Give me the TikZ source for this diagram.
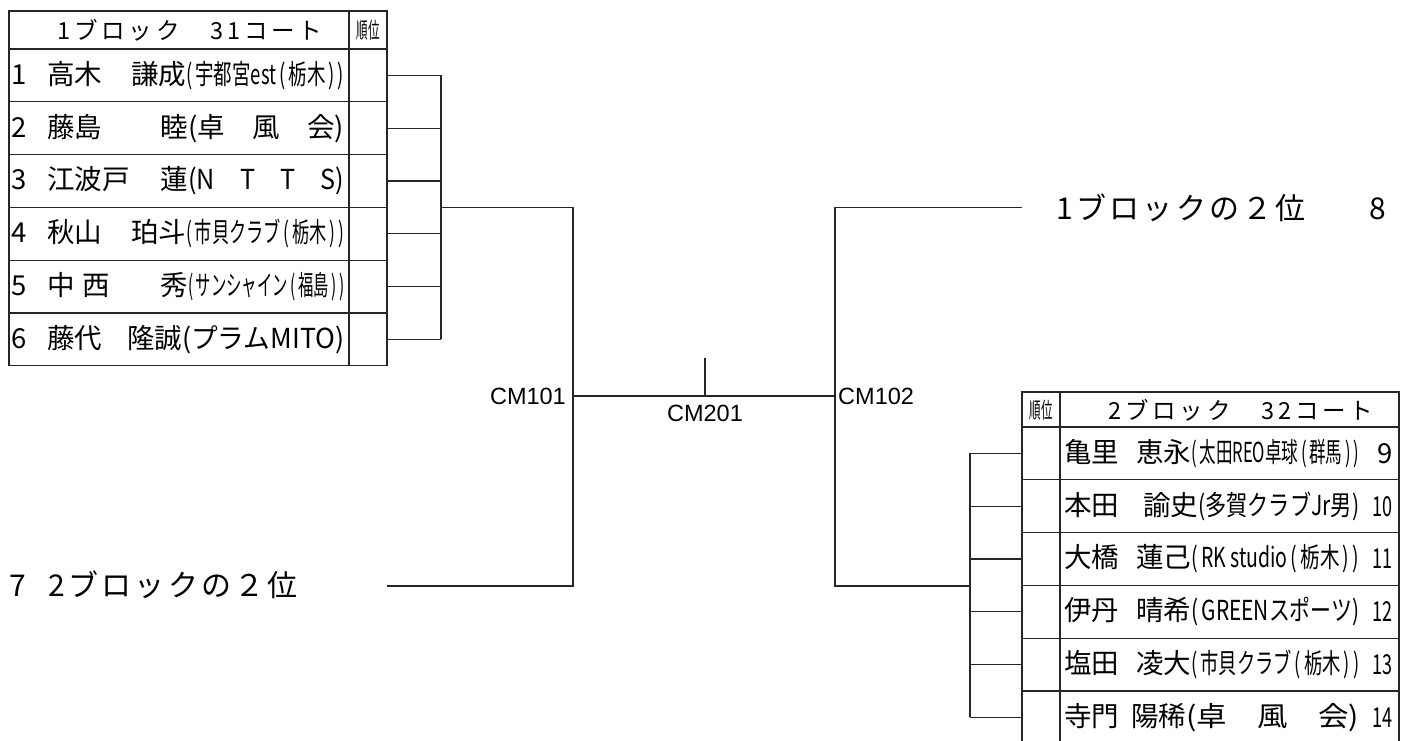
\documentclass[tikz,border=0pt]{standalone}
\usepackage{fontspec}
\usepackage{graphicx}
\setmainfont{Liberation Sans}
\newfontfamily\jp{Noto Sans CJK JP}
\newfontfamily\jpsp{Noto Sans CJK JP}[LetterSpace=16]
\newfontfamily\jpsec{Noto Sans CJK JP}[LetterSpace=11]
\usetikzlibrary{positioning}
\tikzstyle{Name} = [inner sep=0pt, anchor=west, font=\jp\fontsize{27.5}{27.5}\selectfont]
\tikzstyle{Head} = [inner sep=0pt, font=\jpsp\fontsize{23.5}{23.5}\selectfont]
\tikzstyle{Rank} = [inner sep=0pt, font=\jp\fontsize{22}{22}\selectfont]
\tikzstyle{Label} = [inner sep=0pt, font=\fontsize{23.5}{23.5}\selectfont]
\tikzstyle{Second} = [inner sep=0pt, anchor=west, font=\jpsec\fontsize{30}{30}\selectfont]
\tikzstyle{Grid} = [line width=1.3pt, black!85]
\tikzstyle{Wire} = [line width=1.3pt, black!85]
\newcommand{\seedno}[1]{\ifnum#1>9 \resizebox{20pt}{\height}{#1}\else#1\fi}

\begin{document}
\begin{tikzpicture}[x=1pt,y=-1pt]
  \useasboundingbox (0,0) rectangle (1401,740);
  % block 1
  \draw[Grid] (9,11) rectangle (387,365.8);
  \draw[Grid] (349,11) -- (349,365.8);
  \foreach \k in {0,...,5} \draw[Grid] (9,49+52.8*\k) -- (387,49+52.8*\k);
  \node[Head] (head1) at (190,30) {1ブロック　31コート};
  \node[Rank] (rank1) at (368,30) {\resizebox{23pt}{\height}{順位}};
  \foreach \i/\s/\g/\e/\c in {1/高木/謙成/186/{(\,宇都宮est\,(\,栃木\,)\,)},
      2/藤島/睦/188/{(卓　風　会)}, 3/江波戸/蓮/188/{(N　T　T　S)},
      4/秋山/珀斗/186/{(\,市貝クラブ\,(\,栃木\,)\,)}, 5/中\hspace{8pt}西/秀/188/{(\,サンシャイン\,(\,福島\,)\,)},
      6/藤代/隆誠/182/{(プラムMITO)}}{
    \pgfmathsetmacro\y{49+52.8*(\i-0.5)}
    \pgfmathsetmacro\nw{\e-47}
    \pgfmathsetmacro\cw{344-\e}
    \node[Name] (p\i) at (11,\y) {\makebox[36pt][l]{\i}\makebox[\nw pt][l]{\s\hfill\g}\resizebox{\cw pt}{\height}{\c}};
    \coordinate (pr\i) at (387,\y);
    \coordinate (pj\i) at (441,\y);
    \draw[Wire] (pr\i) -- (pj\i);
  }
  % block 2
  \draw[Grid] (1022,392) rectangle (1399,743.8);
  \draw[Grid] (1060,392) -- (1060,743.8);
  \foreach \k in {0,...,5} \draw[Grid] (1022,427+52.8*\k) -- (1399,427+52.8*\k);
  \node[Head] (head2) at (1241,410) {2ブロック　32コート};
  \node[Rank] (rank2) at (1041,410) {\resizebox{23pt}{\height}{順位}};
  \foreach \i/\s/\g/\e/\c/\n in {1/亀里/恵永/1191/{(\,太田REO卓球\,(\,群馬\,)\,)}/9,
      2/本田/諭史/1198/{(多賀クラブJr男)}/10, 3/大橋/蓮己/1191/{(\,RK studio\,(\,栃木\,)\,)}/11,
      4/伊丹/晴希/1191/{(\,GREENスポーツ)}/12, 5/塩田/凌大/1191/{(\,市貝クラブ\,(\,栃木\,)\,)}/13,
      6/寺門/陽稀/1186/{(卓　風　会)}/14}{
    \pgfmathsetmacro\y{427+52.8*(\i-0.5)}
    \pgfmathsetmacro\nw{\e-1064}
    \pgfmathsetmacro\cw{1359-\e}
    \node[Name] (r\i) at (1064,\y) {\makebox[\nw pt][l]{\s\hfill\g}\resizebox{\cw pt}{\height}{\c}};
    \node[Name, anchor=east] (n\i) at (1393,\y) {\seedno{\n}};
    \coordinate (rr\i) at (1022,\y);
    \coordinate (rj\i) at (970,\y);
    \draw[Wire] (rr\i) -- (rj\i);
  }
  % seconds
  \node[Second] (sec1) at (1056,208) {\makebox[330pt][l]{1ブロックの２位\hfill 8}};
  \node[Second] (sec2) at (9,585) {\makebox[39pt][l]{7}2ブロックの２位};
  % bracket
  \coordinate (w1) at (441,207.4);
  \coordinate (c101) at (573,396);
  \coordinate (c102) at (835,396);
  \coordinate (c201) at (705,396);
  \coordinate (in2) at (387,586);
  \coordinate (in8) at (1022,207.4);
  \coordinate (w2) at (970,586);
  \draw[Wire] (pj1) -- (pj6);
  \draw[Wire] (w1) -- (w1 -| c101) -- (in2 -| c101) -- (in2);
  \draw[Wire] (c101) -- (c102);
  \draw[Wire] (c201) -- ++(0,-38);
  \draw[Wire] (in8) -- (in8 -| c102) -- (w2 -| c102) -- (w2);
  \draw[Wire] (rj1) -- (rj6);
  \node[Label, left=7pt of c101] (m101) {CM101};
  \node[Label, right=3pt of c102] (m102) {CM102};
  \node[Label, below=9pt of c201] (m201) {CM201};
\end{tikzpicture}
\end{document}
